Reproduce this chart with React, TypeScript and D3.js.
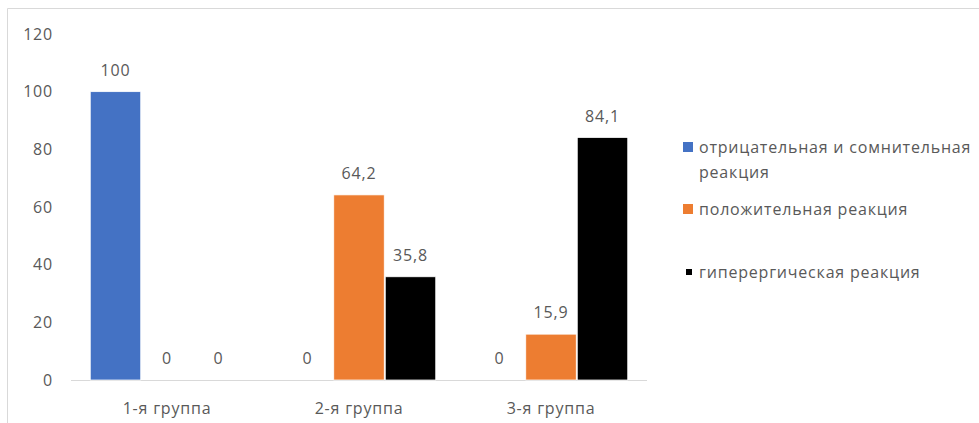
import React from "react";
import * as d3 from "d3";

const groups = ["1-я группа", "2-я группа", "3-я группа"];
const seriesNames = [
  "отрицательная и сомнительная реакция",
  "положительная реакция",
  "гиперергическая реакция",
];
const negativeDoubtful = [100, 0, 0];
const positive = [0, 64.2, 15.9];
const hyperergic = [0, 35.8, 84.1];
const yTicks = [0, 20, 40, 60, 80, 100, 120];

const colors = ["#4472C4", "#ED7D31", "#000000"];
const textColor = "#595959";
const font = "'Open Sans', 'Noto Sans', sans-serif";
const fs = 16;
const ls = 0.8;

const W = 979;
const H = 423;

export default function App() {
  const series = [negativeDoubtful, positive, hyperergic];
  const y = d3.scaleLinear().domain([0, 120]).range([380, 34]);
  const x0 = d3.scaleBand<string>().domain(groups).range([71, 647]);
  const x1 = d3
    .scaleBand<number>()
    .domain([0, 1, 2])
    .range([0, x0.bandwidth()])
    .paddingInner(0.02)
    .paddingOuter(0.374);

  const fmt = (v: number) => (Number.isInteger(v) ? String(v) : String(v).replace(".", ","));

  const legendRows = [
    { lines: ["отрицательная и сомнительная", "реакция"], y: 147, size: 10 },
    { lines: ["положительная реакция"], y: 209, size: 10 },
    { lines: ["гиперергическая реакция"], y: 272, size: 6 },
  ];

  return (
    <div style={{ position: "fixed", left: 0, top: 0, width: W, height: H, background: "#fff" }}>
      <svg width={W} height={H} style={{ fontFamily: font, display: "block", letterSpacing: ls }}>
        <rect x={0} y={0} width={W} height={H} fill="#fff" />
        {/* chart frame */}
        <line x1={7.5} y1={8.5} x2={W} y2={8.5} stroke="#d9d9d9" />
        <line x1={7.5} y1={8.5} x2={7.5} y2={H} stroke="#d9d9d9" />

        {/* y-axis tick labels */}
        {yTicks.map((t) => (
          <text
            key={t}
            x={53}
            y={y(t)}
            dy="0.35em"
            textAnchor="end"
            fontSize={fs}
            fill={textColor}
          >
            {t}
          </text>
        ))}

        {/* baseline */}
        <line x1={71} x2={647} y1={y(0) + 0.5} y2={y(0) + 0.5} stroke="#d9d9d9" strokeWidth={1} />

        {/* bars and value labels */}
        {groups.map((g, gi) => (
          <g key={g} transform={`translate(${x0(g)},0)`}>
            {series.map((vals, si) => {
              const v = vals[gi];
              const bx = x1(si)!;
              const bw = x1.bandwidth();
              return (
                <g key={si}>
                  {v > 0 && (
                    <rect
                      x={bx}
                      y={y(v)}
                      width={bw}
                      height={y(0) - y(v)}
                      fill={colors[si]}
                      stroke="#fff"
                      strokeWidth={0.75}
                    />
                  )}
                  <text
                    x={bx + bw / 2}
                    y={y(v) - 16}
                    textAnchor="middle"
                    fontSize={fs}
                    fill={textColor}
                  >
                    {fmt(v)}
                  </text>
                </g>
              );
            })}
          </g>
        ))}

        {/* category labels */}
        {groups.map((g) => (
          <text
            key={g}
            x={x0(g)! + x0.bandwidth() / 2}
            y={408}
            dy="0.35em"
            textAnchor="middle"
            fontSize={fs}
            fill={textColor}
          >
            {g}
          </text>
        ))}

        {/* legend */}
        {legendRows.map((row, i) => (
          <g key={seriesNames[i]}>
            <rect
              x={i === 2 ? 686 : 683}
              y={row.y - row.size / 2}
              width={row.size}
              height={row.size}
              fill={colors[i]}
            />
            {row.lines.map((ln, li) => (
              <text
                key={li}
                x={699}
                y={row.y + li * 25}
                dy="0.35em"
                fontSize={fs}
                fill={textColor}
              >
                {ln}
              </text>
            ))}
          </g>
        ))}
      </svg>
    </div>
  );
}
